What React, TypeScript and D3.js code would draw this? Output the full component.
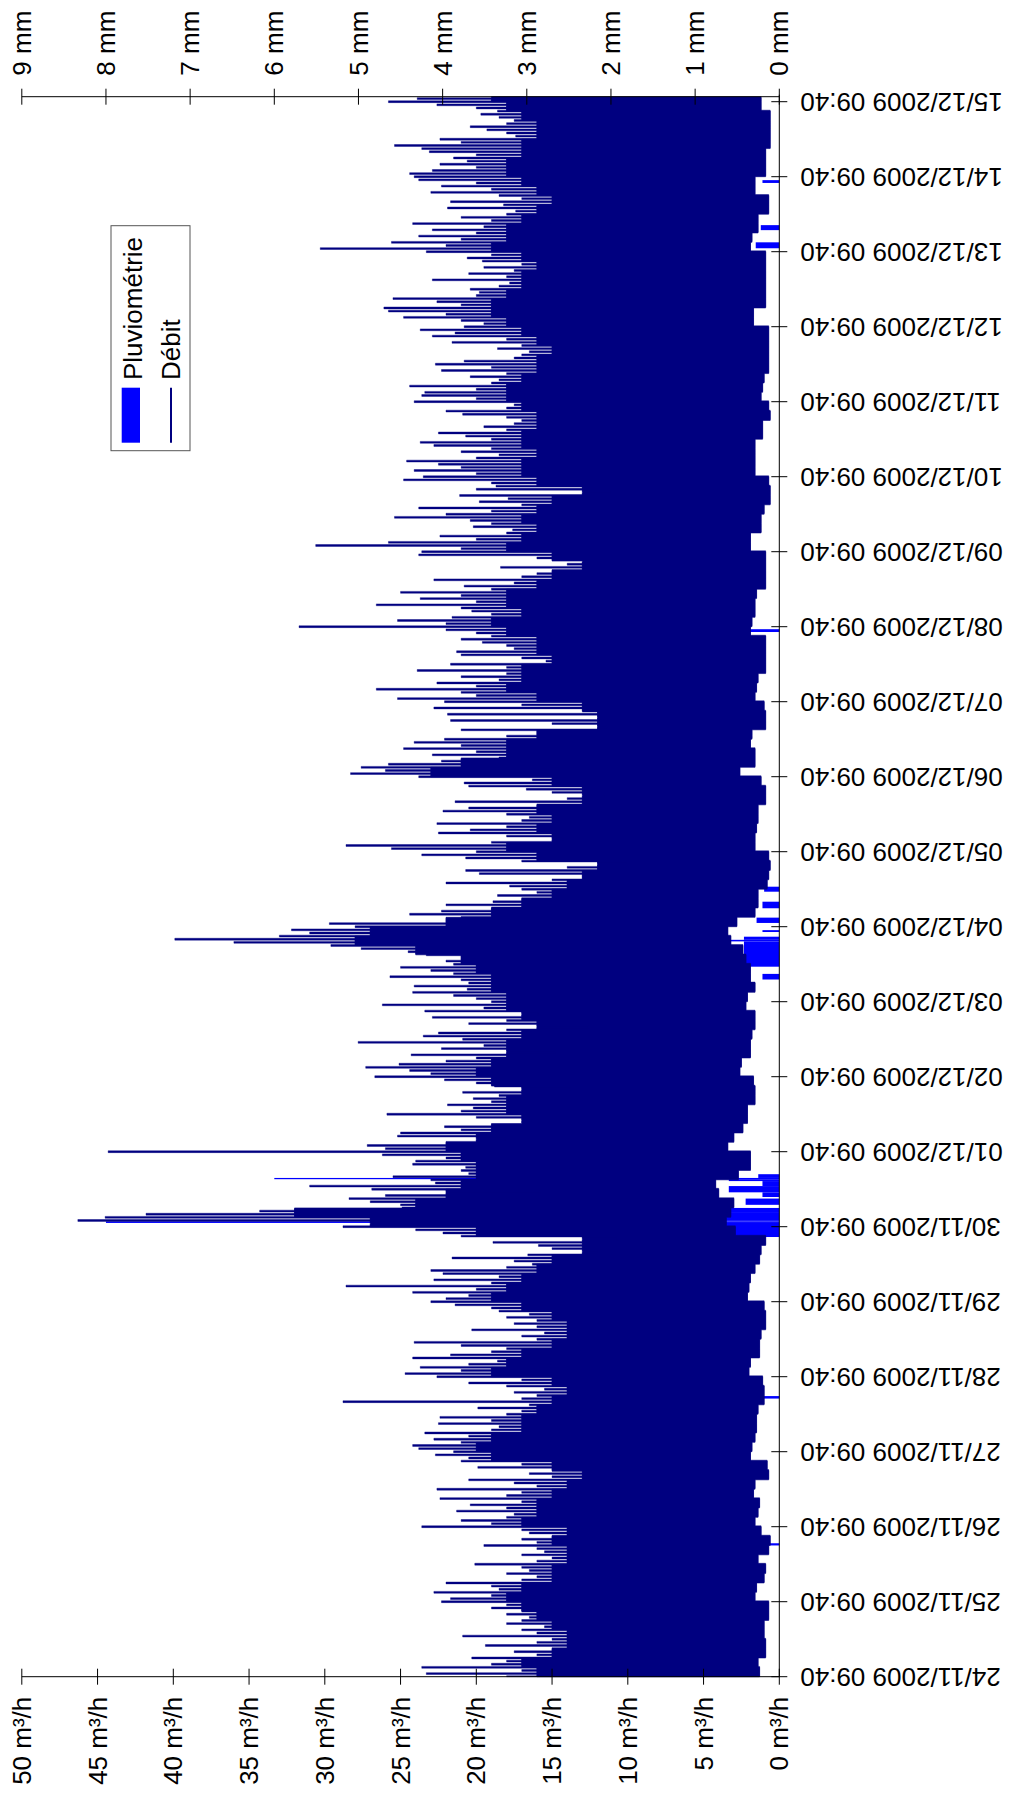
import React from "react";
import * as d3 from "d3";

// ---------- DATA ----------
const debutMesure = "24/11/2009 09:40";
const dureeHeures = 505.6;

// hourly maxima of the flow (m³/h), from 24/11/2009 09:40
const debitMax = [
  18, 23.3, 17, 23.6, 19, 18, 20.3, 16, 17.5, 15, 19.4, 16, 15, 20.9, 16, 17, 15.5, 18, 17, 16.5, 18, 17, 19, 18,
  22.3, 21.7, 19, 22.8, 18.5, 19, 22, 17, 16, 18, 16.5, 17, 20.1, 16, 15, 17, 15.5, 16, 19.5, 16, 17, 15, 16.5, 17,
  23.6, 19, 21, 18, 17.5, 21.3, 18, 20.4, 17, 22.4, 18, 17, 22.6, 16, 17.5, 20.5, 15, 16.5, 15, 19.9, 17, 21, 20.5, 22.7,
  21.5, 23.8, 24.2, 21, 22.8, 20.5, 23.4, 19, 18.5, 22.5, 19, 22.4, 18, 17, 19.9, 16.5, 28.8, 17, 16, 17.5, 15.5, 18, 20.5, 17,
  22.6, 24.7, 21, 23.7, 20.5, 18.6, 24.2, 21.7, 19, 18, 21, 24.1, 16, 17, 15.5, 20.3, 16, 17.5, 16, 18, 16.5, 18.5, 19, 21.4,
  23, 22, 20.5, 24.2, 20, 28.6, 19, 22.8, 18.5, 22.2, 23, 18, 16.3, 17.5, 21.6, 16.6, 12, 15, 15.9, 18.9, 10.7, 21, 22.2, 24,
  28.8, 26.8, 46.3, 44.5, 41.8, 34.3, 24.9, 25, 27, 28.4, 26, 15.8, 26.9, 31, 22.7, 23, 25.5, 20.5, 21, 20.7, 24.2, 24, 22, 26.2,
  44.3, 26, 27.2, 22, 18.1, 25.2, 25, 21, 22.1, 16.7, 16.3, 20, 25.9, 21, 20.2, 21.9, 19, 20.2, 18.5, 20.9, 13.8, 18.8, 20, 22.1,
  26.7, 23, 24.4, 27.3, 25.1, 22, 20, 24.3, 14.8, 22.3, 19.5, 27.8, 20.9, 23.5, 22.5, 18, 12.6, 20.5, 18, 22.9, 15.9, 23.4, 19.5, 26.2,
  19, 20, 21.5, 24.2, 20.6, 24.1, 20.5, 21, 25.7, 21.5, 23, 25, 21.5, 22, 21, 23.3, 24.5, 27.6, 29.6, 36, 39.9, 33, 31, 32.2,
  28, 29.7, 22, 21, 24.4, 22.3, 19, 22, 18.9, 17, 18.6, 16, 17, 17.8, 22, 15, 13, 19.8, 20.7, 14, 10.1, 17, 20.7, 23.6,
  20, 25.6, 28.6, 19, 14.3, 18, 22.5, 20.4, 18, 22.6, 17, 16.5, 18, 22.2, 20.5, 16, 21.4, 14, 11.6, 15, 16.7, 20.5, 20.8, 16.3,
  23.8, 28.3, 26, 27.6, 25.8, 22.3, 18.5, 22.9, 20, 24.8, 21, 24.1, 22.1, 18, 16, 21, 11.4, 15, 21.7, 11.9, 21.9, 13, 22.8, 17,
  22.1, 25.2, 20, 21, 26.6, 20, 22.6, 18.5, 21, 18, 23.9, 18, 21.7, 15.4, 17, 21, 21.3, 17.5, 18, 19.6, 21, 19, 20, 22,
  31.7, 22, 25.2, 21.6, 19, 20.3, 21, 26.6, 20, 23.7, 21, 25, 19, 20.8, 17.5, 22.8, 17, 16, 15, 18.4, 14, 12, 16, 23.8,
  23.6, 21, 30.6, 25.8, 20, 22.4, 18, 17.6, 20.2, 19, 20.4, 25.4, 22, 19, 23.8, 17, 19.8, 17.9, 21.1, 11.2, 20, 18.7, 19, 24.8,
  23.5, 20, 24.1, 21, 22.5, 24.6, 20, 18.5, 21, 19, 22.8, 23.7, 19, 20.7, 22.5, 18, 19.5, 17.5, 17, 18, 20.9, 22, 18, 17.5,
  24.1, 20, 23.6, 23.4, 20, 24.4, 19, 18.5, 20.4, 18, 22.3, 19, 22.7, 20.8, 17.5, 17, 16.5, 18.6, 17, 21.6, 18, 22.9, 21.4, 23.7,
  20.8, 19.5, 21, 24.8, 22, 25.8, 26.1, 21, 22.6, 25.5, 20, 19.8, 20.4, 18.5, 17.8, 22.9, 18, 20.5, 17.5, 19.5, 17, 19.6, 20.6, 19,
  23.3, 30.3, 22, 25.6, 21, 23.8, 20, 22.9, 19.5, 24.2, 19, 21, 18, 17.4, 21.9, 18.2, 21.7, 17, 18.5, 23, 19, 22.3, 20, 23.8,
  24.1, 24.4, 22.9, 20, 22.4, 20.6, 21.5, 20, 23.1, 23.6, 25.4, 21, 22.4, 17.4, 18, 19.3, 20.4, 18, 17.5, 18.5, 19.7, 18.6, 20, 22.6, 25.8, 23.9,
];

// 3-hourly level of the dense body of the flow (m³/h)
const debitCorps = [
  16, 17, 15, 14, 14, 15, 16, 17, 18, 17,
  15, 15, 14, 14, 15, 14, 17, 16, 16, 15,
  14, 13, 15, 19, 20, 19, 17, 17, 16, 15,
  14, 15, 19, 18, 17, 15, 14, 14, 15, 17,
  19, 18, 17, 16, 15, 13, 13, 20, 27, 32,
  24, 22, 21, 20, 20, 21, 22, 20, 19, 17,
  18, 18, 17, 19, 20, 19, 18, 18, 17, 16,
  17, 18, 18, 19, 19, 20, 21, 24, 28, 27,
  22, 19, 17, 15, 14, 13, 12, 16, 18, 15,
  16, 15, 16, 13, 13, 15, 23, 21, 18, 18,
  16, 12, 12, 13, 16, 18, 17, 17, 15, 16,
  16, 18, 19, 17, 18, 18, 16, 15, 13, 15,
  18, 17, 16, 17, 16, 15, 13, 16, 17, 17,
  16, 17, 17, 16, 16, 17, 18, 18, 17, 16,
  16, 15, 16, 17, 18, 19, 19, 18, 17, 17,
  16, 17, 19, 18, 18, 17, 16, 15, 16, 17,
  18, 18, 17, 17, 16, 16, 17, 18, 19,
];

// 3-hourly minimum of the flow (m³/h)
const debitFond = [
  1.3, 1.4, 0.9, 0.9, 1.0, 1.0, 0.7, 0.7, 1.6, 1.5,
  1.0, 0.9, 1.4, 0.7, 0.6, 1.2, 1.6, 1.4, 1.3, 1.7,
  1.6, 0.7, 0.8, 1.9, 1.8, 1.6, 1.5, 1.5, 1.4, 1.0,
  1.0, 1.1, 2.0, 1.9, 1.3, 1.3, 1.2, 0.9, 0.9, 1.0,
  2.1, 2.0, 1.9, 1.6, 1.3, 1.2, 0.9, 2.9, 3.5, 3.2,
  3.0, 4.0, 4.2, 2.7, 1.9, 1.9, 3.4, 3.0, 2.4, 2.1,
  2.1, 1.6, 1.6, 1.7, 2.6, 2.5, 1.9, 1.9, 1.8, 1.6,
  1.6, 2.2, 2.1, 1.6, 1.9, 1.9, 2.2, 2.4, 3.2, 3.4,
  2.8, 1.6, 1.4, 1.4, 0.8, 0.7, 0.6, 0.7, 1.6, 1.6,
  1.5, 1.4, 1.4, 0.9, 0.9, 1.2, 2.6, 1.6, 1.6, 1.9,
  1.8, 0.9, 0.9, 1.0, 1.6, 1.5, 1.4, 0.9, 0.9, 0.9,
  0.9, 1.9, 1.8, 1.6, 1.6, 1.5, 0.9, 0.9, 0.9, 0.9,
  1.9, 1.9, 1.2, 1.2, 1.0, 0.6, 0.6, 0.7, 1.6, 1.6,
  1.6, 1.6, 1.1, 1.1, 0.6, 0.7, 1.2, 1.1, 1.0, 0.7,
  0.7, 0.7, 0.7, 0.7, 1.7, 1.7, 0.9, 0.9, 0.9, 0.9,
  0.9, 0.9, 1.9, 1.8, 1.4, 1.4, 0.7, 0.7, 1.6, 1.6,
  0.9, 0.9, 0.9, 0.6, 0.6, 0.6, 0.6, 1.2, 1.2,
];

// rainfall (mm): start hour, end hour, depth
const pluieDebut = [42.0, 89.0, 140.7, 145.2, 145.7, 146.1, 148.4, 151.0, 153.5, 155.0, 157.0, 158.6, 159.2, 159.6, 223.1, 227.2, 235.3, 235.8, 238.3, 241.2, 245.9, 251.2, 334.3, 457.1, 462.9, 478.0];
const pluieFin = [42.7, 89.8, 145.2, 145.7, 146.1, 148.4, 150.0, 153.0, 155.0, 157.0, 158.6, 159.2, 159.6, 160.8, 224.9, 235.3, 235.8, 236.8, 238.9, 242.9, 248.0, 252.8, 335.2, 459.0, 464.5, 478.9];
const pluieMm = [0.12, 0.2, 0.8, 8.0, 0.8, 3.0, 0.9, 0.4, 0.2, 0.6, 0.2, 0.6, 6.0, 0.25, 0.2, 0.42, 1.0, 0.42, 0.2, 0.27, 0.2, 0.18, 0.35, 0.28, 0.22, 0.2];

const debitTicks = [0, 5, 10, 15, 20, 25, 30, 35, 40, 45, 50];
const pluieTicks = [0, 1, 2, 3, 4, 5, 6, 7, 8, 9];
const dateTicks = [
  "24/11/2009 09:40", "25/11/2009 09:40", "26/11/2009 09:40", "27/11/2009 09:40",
  "28/11/2009 09:40", "29/11/2009 09:40", "30/11/2009 09:40", "01/12/2009 09:40",
  "02/12/2009 09:40", "03/12/2009 09:40", "04/12/2009 09:40", "05/12/2009 09:40",
  "06/12/2009 09:40", "07/12/2009 09:40", "08/12/2009 09:40", "09/12/2009 09:40",
  "10/12/2009 09:40", "11/12/2009 09:40", "12/12/2009 09:40", "13/12/2009 09:40",
  "14/12/2009 09:40", "15/12/2009 09:40",
];

// ---------- LAYOUT ----------
const W = 1014;
const H = 1793;
const X0 = 116.3;
const X1 = 1696.3;
const YZ = 779.3;
const YT = 21.8;
const FONT = "'Liberation Sans', Arial, Helvetica, sans-serif";
const NAVY = "#000080";
const BLUE = "#0000FF";

const parse = d3.timeParse("%d/%m/%Y %H:%M");
const t0 = parse(debutMesure) as Date;
const atHour = (h: number) => new Date(t0.getTime() + h * 3600e3);

type P = { h: number; lo: number; hi: number };

export default function App() {
  const x = d3.scaleTime().domain([t0, atHour(dureeHeures)]).range([X0, X1]);
  const y = d3.scaleLinear().domain([0, 50]).range([YZ, YT]);
  const yP = d3.scaleLinear().domain([0, 9]).range([YZ, YT]);

  const kOf = (h: number) => Math.max(0, Math.min(debitCorps.length - 1, Math.floor(h / 3)));

  // body of the flow (3-hour steps)
  const corpsPts: P[] = debitCorps.map((v, k) => ({ h: k * 3, lo: debitFond[k], hi: v }));
  const last = corpsPts[corpsPts.length - 1];
  corpsPts.push({ h: dureeHeures, lo: last.lo, hi: last.hi });

  // hourly peaks: plateau at the maximum, then back to the body level
  const picPts: P[] = [];
  debitMax.forEach((v, i) => {
    const ha = Math.max(0, i - 0.3);
    const hb = Math.min(dureeHeures, i + 0.3);
    picPts.push({ h: ha, lo: debitFond[kOf(ha)], hi: v });
    picPts.push({ h: hb, lo: debitFond[kOf(hb)], hi: debitCorps[kOf(hb)] });
  });

  const area = d3
    .area<P>()
    .x((d) => x(atHour(d.h)))
    .y0((d) => y(d.lo))
    .y1((d) => y(d.hi))
    .curve(d3.curveStepAfter);

  const fmt = d3.timeFormat("%d/%m/%Y %H:%M");
  const ticksDates = dateTicks.map((s) => parse(s) as Date);

  return (
    <svg
      width={W}
      height={H}
      style={{ position: "absolute", left: 0, top: 0, background: "#fff" }}
      fontFamily={FONT}
    >
      <rect x={0} y={0} width={W} height={H} fill="#fff" />
      <g transform={`translate(0,${H}) rotate(-90)`}>
        {/* rain */}
        {pluieMm.map((v, i) => {
          const xa = x(atHour(pluieDebut[i]));
          const xb = x(atHour(pluieFin[i]));
          return (
            <rect key={"p" + i} x={xa} y={yP(v)} width={Math.max(0.8, xb - xa)} height={YZ - yP(v)} fill={BLUE} />
          );
        })}
        {/* flow */}
        <path d={area(corpsPts) || ""} fill={NAVY} stroke={NAVY} strokeWidth={0.6} />
        <path d={area(picPts) || ""} fill={NAVY} stroke={NAVY} strokeWidth={0.4} />

        {/* left axis: m3/h */}
        <line x1={X0} x2={X0} y1={YZ} y2={YT} stroke="#000" strokeWidth={1} />
        {debitTicks.map((v) => (
          <g key={"d" + v}>
            <line x1={X0 - 8} x2={X0 + 8} y1={y(v)} y2={y(v)} stroke="#000" strokeWidth={1} />
            <text x={X0 - 20} y={y(v)} dy="0.35em" textAnchor="end" fontSize={26} fill="#000">
              {`${v} m³/h`}
            </text>
          </g>
        ))}

        {/* right axis: mm */}
        <line x1={X1} x2={X1} y1={YZ} y2={YT} stroke="#000" strokeWidth={1} />
        {pluieTicks.map((v) => (
          <g key={"m" + v}>
            <line x1={X1 - 8} x2={X1 + 8} y1={yP(v)} y2={yP(v)} stroke="#000" strokeWidth={1} />
            <text x={X1 + 21} y={yP(v)} dy="0.35em" textAnchor="start" fontSize={26} fill="#000">
              {`${v} mm`}
            </text>
          </g>
        ))}

        {/* date axis */}
        <line x1={X0} x2={X1 + 2} y1={YZ} y2={YZ} stroke="#000" strokeWidth={1} />
        {ticksDates.map((d, i) => {
          const xt = x(d);
          return (
            <g key={"t" + i}>
              <line x1={xt} x2={xt} y1={YZ - 8} y2={YZ + 8} stroke="#000" strokeWidth={1} />
              <text
                transform={`translate(${xt},${YZ + 21}) rotate(-90)`}
                dy="0.35em"
                textAnchor="end"
                fontSize={26}
                fill="#000"
              >
                {fmt(d)}
              </text>
            </g>
          );
        })}

        {/* legend */}
        <rect x={1342.3} y={111} width={225} height={79} fill="#fff" stroke="#555" strokeWidth={1} />
        <rect x={1350.3} y={121.7} width={55} height={18.3} fill={BLUE} />
        <text x={1413} y={141.7} fontSize={26} fill="#000">Pluviométrie</text>
        <line x1={1350.3} x2={1405.3} y1={171} y2={171} stroke={NAVY} strokeWidth={2} />
        <text x={1413} y={180} fontSize={26} fill="#000">Débit</text>
      </g>
    </svg>
  );
}
